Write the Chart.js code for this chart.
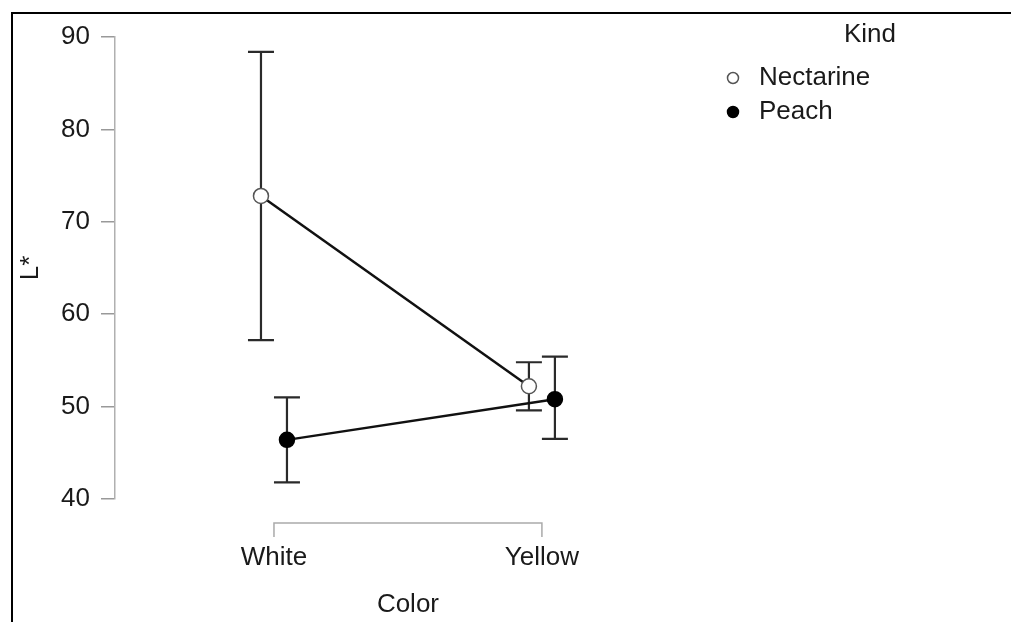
<!DOCTYPE html>
<html>
<head>
<meta charset="utf-8">
<script src="https://cdn.jsdelivr.net/npm/chart.js@4/dist/chart.umd.min.js"></script>
<style>
  html, body { margin: 0; padding: 0; background: #fff; }
  #wrap { width: 1011px; height: 622px; }
</style>
</head>
<body>
<div id="wrap"><canvas id="chart" width="1011" height="622"></canvas></div>
<script>
// data
const categories = ["White", "Yellow"];
const kinds = ["Nectarine", "Peach"];
const nectarineMean = [72.8, 52.2];
const nectarineLower = [57.2, 49.6];
const nectarineUpper = [88.4, 54.8];
const peachMean = [46.4, 50.8];
const peachLower = [41.8, 46.5];
const peachUpper = [51.0, 55.4];
const yTicks = [40, 50, 60, 70, 80, 90];

const FONT = "'Liberation Sans', Arial, sans-serif";
const TEXT = "#1a1a1a";
const DODGE = 0.0485;

function points(means, shift) {
  return means.map((v, i) => ({ x: i + shift, y: v }));
}

// error bars, drawn under the lines and points
const errorBars = {
  id: "errorBars",
  beforeDatasetsDraw(chart) {
    const { ctx, scales: { x, y } } = chart;
    ctx.save();
    ctx.strokeStyle = "#2a2a2a";
    ctx.lineWidth = 2.2;
    chart.data.datasets.forEach(ds => {
      ds.data.forEach((p, i) => {
        const px = x.getPixelForValue(p.x);
        const top = y.getPixelForValue(ds.upper[i]);
        const bot = y.getPixelForValue(ds.lower[i]);
        ctx.beginPath();
        ctx.moveTo(px, top); ctx.lineTo(px, bot);
        ctx.moveTo(px - 13, top); ctx.lineTo(px + 13, top);
        ctx.moveTo(px - 13, bot); ctx.lineTo(px + 13, bot);
        ctx.stroke();
      });
    });
    ctx.restore();
  }
};

// frame, x bracket axis, legend
const extras = {
  id: "extras",
  afterDraw(chart) {
    const { ctx, scales: { x } } = chart;
    ctx.save();
    // frame lines at top and left
    ctx.fillStyle = "#000";
    ctx.fillRect(11, 12, 1000, 2);
    ctx.fillRect(11, 12, 2, 610);

    // x axis bracket
    const x0 = x.getPixelForValue(0);
    const x1 = x.getPixelForValue(categories.length - 1);
    const ay = 523;
    ctx.strokeStyle = "#aaa";
    ctx.lineWidth = 1.5;
    ctx.beginPath();
    ctx.moveTo(x0, ay + 14); ctx.lineTo(x0, ay); ctx.lineTo(x1, ay); ctx.lineTo(x1, ay + 14);
    ctx.stroke();

    ctx.fillStyle = TEXT;
    ctx.font = "26px " + FONT;
    ctx.textAlign = "center";
    ctx.textBaseline = "middle";
    categories.forEach((c, i) => ctx.fillText(c, x.getPixelForValue(i), 558));
    ctx.fillText("Color", (x0 + x1) / 2, 605);

    // legend
    ctx.fillText("Kind", 870, 35);
    ctx.textAlign = "left";
    chart.data.datasets.forEach((ds, i) => {
      const ly = 78 + i * 34;
      ctx.beginPath();
      ctx.arc(733, ly, 5.5, 0, Math.PI * 2);
      ctx.fillStyle = ds.pointBackgroundColor;
      ctx.fill();
      ctx.lineWidth = 1.5;
      ctx.strokeStyle = ds.pointBorderColor;
      ctx.stroke();
      ctx.fillStyle = TEXT;
      ctx.fillText(ds.label, 759, ly);
    });
    ctx.restore();
  }
};

new Chart(document.getElementById("chart"), {
  type: "line",
  data: {
    datasets: [
      {
        label: kinds[0],
        data: points(nectarineMean, -DODGE),
        lower: nectarineLower,
        upper: nectarineUpper,
        borderColor: "#111",
        borderWidth: 2.5,
        pointRadius: 7.5,
        pointBackgroundColor: "#fff",
        pointBorderColor: "#555",
        pointBorderWidth: 1.5
      },
      {
        label: kinds[1],
        data: points(peachMean, DODGE),
        lower: peachLower,
        upper: peachUpper,
        borderColor: "#111",
        borderWidth: 2.5,
        pointRadius: 7.5,
        pointBackgroundColor: "#000",
        pointBorderColor: "#000",
        pointBorderWidth: 1.5
      }
    ]
  },
  options: {
    responsive: false,
    animation: false,
    layout: { padding: { left: 0, top: 37, bottom: 123, right: 311 } },
    plugins: { legend: { display: false }, tooltip: { enabled: false } },
    scales: {
      x: {
        type: "linear",
        display: false,
        min: -0.5933,
        max: 1.59
      },
      y: {
        min: 40,
        max: 90,
        afterBuildTicks: s => { s.ticks = yTicks.map(v => ({ value: v })); },
        afterFit: s => { s.width = 115; },
        border: { display: true, color: "#b0b0b0", width: 1.5 },
        grid: { drawOnChartArea: false, drawTicks: true, tickLength: 14, color: "#999", lineWidth: 1.5 },
        ticks: { color: TEXT, padding: 11, font: { family: FONT, size: 26 } },
        title: {
          display: true,
          text: "L*",
          color: TEXT,
          padding: { top: 15, bottom: 0 },
          font: { family: FONT, size: 26 }
        }
      }
    }
  },
  plugins: [errorBars, extras]
});
</script>
</body>
</html>
